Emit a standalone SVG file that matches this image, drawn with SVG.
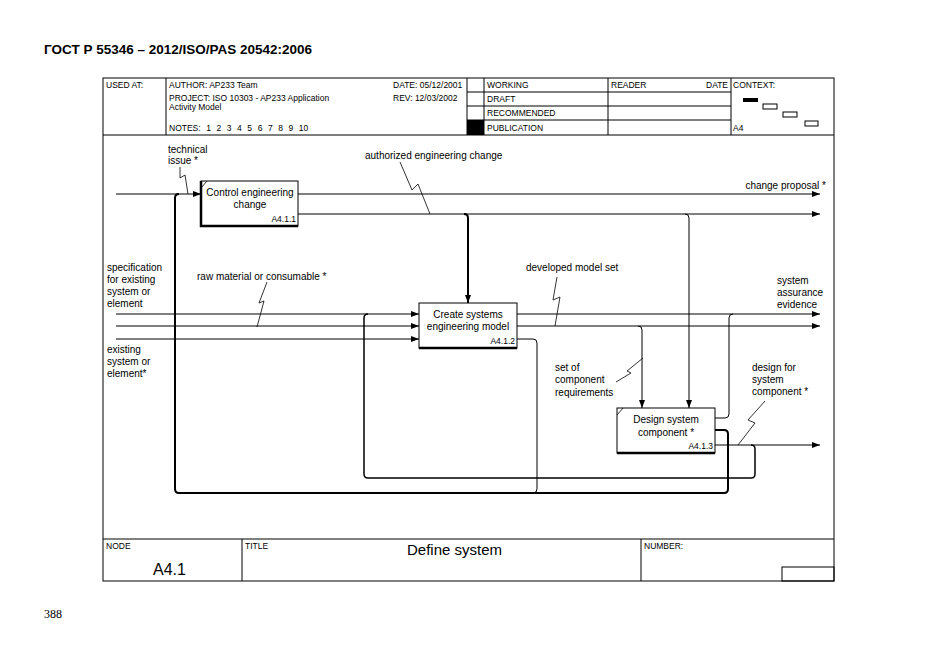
<svg xmlns="http://www.w3.org/2000/svg" width="935" height="662" viewBox="0 0 935 662">
<defs>
<marker id="ah" markerUnits="userSpaceOnUse" markerWidth="9" markerHeight="7" refX="8" refY="3.5" orient="auto">
<path d="M0,0.5 L8,3.5 L0,6.5 z" fill="#000"/>
</marker>
<style>
text{font-family:"Liberation Sans",Arial,sans-serif;fill:#000}
.h{font-size:8.5px}
.l{font-size:10px}
.c{font-size:10px;text-anchor:middle}
.n{font-size:8.5px;text-anchor:end}
.ln{fill:none;stroke:#000;stroke-width:1}
.a{fill:none;stroke:#000;stroke-width:1;marker-end:url(#ah)}
.tk{fill:none;stroke:#000;stroke-width:2}
.sq{fill:none;stroke:#000;stroke-width:0.8}
.box{fill:#fff;stroke:#000;stroke-width:1}
.sh{fill:none;stroke:#000;stroke-width:2.5}
</style>
</defs>
<rect width="935" height="662" fill="#fff"/>
<text x="44" y="54" style="font-size:13.5px;font-weight:bold">ГОСТ Р 55346 – 2012/ISO/PAS 20542:2006</text>
<text x="44" y="618" style="font-family:'Liberation Serif',serif;font-size:12px">388</text>

<g id="frame">
<rect x="103" y="78" width="731" height="503" class="ln"/>
<line x1="103" y1="135" x2="834" y2="135" class="ln"/>
<line x1="166" y1="78" x2="166" y2="135" class="ln"/>
<line x1="467" y1="78" x2="467" y2="135" class="ln"/>
<line x1="484" y1="78" x2="484" y2="135" class="ln"/>
<line x1="608" y1="78" x2="608" y2="135" class="ln"/>
<line x1="731" y1="78" x2="731" y2="135" class="ln"/>
<line x1="467" y1="92" x2="731" y2="92" class="ln"/>
<line x1="467" y1="106" x2="731" y2="106" class="ln"/>
<line x1="467" y1="120" x2="731" y2="120" class="ln"/>
<rect x="467" y="120" width="17" height="15" fill="#000"/>
<rect x="743" y="98" width="15" height="4" fill="#000"/>
<rect x="763" y="104" width="14" height="5" class="ln"/>
<rect x="783" y="112" width="14" height="5" class="ln"/>
<rect x="805" y="121" width="13" height="5" class="ln"/>
<text x="106" y="88" class="h">USED AT:</text>
<text x="169" y="88" class="h">AUTHOR: AP233 Team</text>
<text x="393" y="88" class="h">DATE: 05/12/2001</text>
<text x="169" y="101" class="h">PROJECT: ISO 10303 - AP233 Application</text>
<text x="393" y="101" class="h">REV: 12/03/2002</text>
<text x="169" y="110" class="h">Activity Model</text>
<text x="169" y="131" class="h" style="word-spacing:3.2px">NOTES: 1 2 3 4 5 6 7 8 9 10</text>
<text x="487" y="88" class="h">WORKING</text>
<text x="487" y="102" class="h">DRAFT</text>
<text x="487" y="116" class="h">RECOMMENDED</text>
<text x="487" y="131" class="h">PUBLICATION</text>
<text x="611" y="88" class="h">READER</text>
<text x="706" y="88" class="h">DATE</text>
<text x="733" y="88" class="h">CONTEXT:</text>
<text x="733" y="131" class="h">A4</text>
<line x1="103" y1="539" x2="834" y2="539" class="ln"/>
<line x1="242" y1="539" x2="242" y2="581" class="ln"/>
<line x1="641" y1="539" x2="641" y2="581" class="ln"/>
<rect x="782" y="567" width="52" height="14" class="ln"/>
<text x="106" y="549" class="h">NODE</text>
<text x="153" y="575" style="font-size:16px">A4.1</text>
<text x="245" y="549" class="h">TITLE</text>
<text x="407" y="555" style="font-size:15px">Define system</text>
<text x="644" y="549" class="h">NUMBER:</text>
</g>

<g id="connectors">
<path d="M116,194 H201" class="a"/>
<path d="M298,194 H820" class="a"/>
<path d="M298,214 H820" class="a"/>
<path d="M464,214 q4,0 4,4 V303" class="tk" marker-end="url(#ah)"/>
<path d="M685,214 q4,0 4,4 V408" class="a"/>
<path d="M116,314 H419" class="a"/>
<path d="M116,326 H419" class="a"/>
<path d="M116,339 H419" class="a"/>
<path d="M517,314 H820" class="a"/>
<path d="M517,326 H820" class="a"/>
<path d="M638,326 q4,0 4,4 V408" class="a"/>
<path d="M517,339 H533 q4,0 4,4 V489 q0,4 -4,4" class="ln"/>
<path d="M715,418 H725 q4,0 4,-4 V318 q0,-4 4,-4" class="ln"/>
<path d="M715,430 H724 q4,0 4,4 V489 q0,4 -4,4 H179 q-4,0 -4,-4 V198 q0,-4 4,-4" class="tk"/>
<path d="M715,445 H820" class="a"/>
<path d="M751,445 q4,0 4,4 V474 q0,4 -4,4 H368 q-4,0 -4,-4 V318 q0,-4 4,-4" class="ln" style="stroke-width:1.5"/>
<path d="M180,167 V178 L185,175 L188,194" class="sq"/>
<path d="M400,162 L412,190 L418,184 L430,214" class="sq"/>
<path d="M267,282 L259,303 L264,301 L257,327" class="sq"/>
<path d="M557,277 L553,300 L560,297 L555,326" class="sq"/>
<path d="M616,382 L631,373 L627,371 L643,358" class="sq"/>
<path d="M765,401 L748,420 L755,423 L738,445" class="sq"/>
<text x="168" y="153" class="l">technical</text>
<text x="168" y="164" class="l">issue *</text>
<text x="365" y="159" class="l">authorized engineering change</text>
<text x="826" y="189" class="l" text-anchor="end">change proposal *</text>
<text x="107" y="271" class="l">specification</text>
<text x="107" y="283" class="l">for existing</text>
<text x="107" y="295" class="l">system or</text>
<text x="107" y="307" class="l">element</text>
<text x="197" y="280" class="l">raw material or consumable *</text>
<text x="107" y="353" class="l">existing</text>
<text x="107" y="365" class="l">system or</text>
<text x="107" y="377" class="l">element*</text>
<text x="526" y="271" class="l">developed model set</text>
<text x="777" y="284" class="l">system</text>
<text x="777" y="296" class="l">assurance</text>
<text x="777" y="308" class="l">evidence</text>
<text x="555" y="371" class="l">set of</text>
<text x="555" y="383" class="l">component</text>
<text x="555" y="396" class="l">requirements</text>
<text x="752" y="371" class="l">design for</text>
<text x="752" y="383" class="l">system</text>
<text x="752" y="395" class="l">component *</text>
</g>

<g id="A4.1.1">
<rect x="201" y="181" width="97" height="45" class="box"/>
<path d="M201,181 V226 H298" class="sh"/>
<line x1="201" y1="188" x2="207" y2="181" class="sq"/>
<text x="250" y="196" class="c">Control engineering</text>
<text x="250" y="208" class="c">change</text>
<text x="296" y="222" class="n">A4.1.1</text>
</g>

<g id="A4.1.2">
<rect x="419" y="303" width="98" height="45" class="box"/>
<path d="M517,348 H419" class="sh"/>
<text x="468" y="318" class="c">Create systems</text>
<text x="468" y="330" class="c">engineering model</text>
<text x="515" y="344" class="n">A4.1.2</text>
</g>

<g id="A4.1.3">
<rect x="617" y="408" width="98" height="45" class="box"/>
<path d="M715,453 H617" class="sh"/>
<line x1="617" y1="415" x2="623" y2="408" class="sq"/>
<text x="666" y="423" class="c">Design system</text>
<text x="666" y="436" class="c">component *</text>
<text x="713" y="449" class="n">A4.1.3</text>
</g>
</svg>
